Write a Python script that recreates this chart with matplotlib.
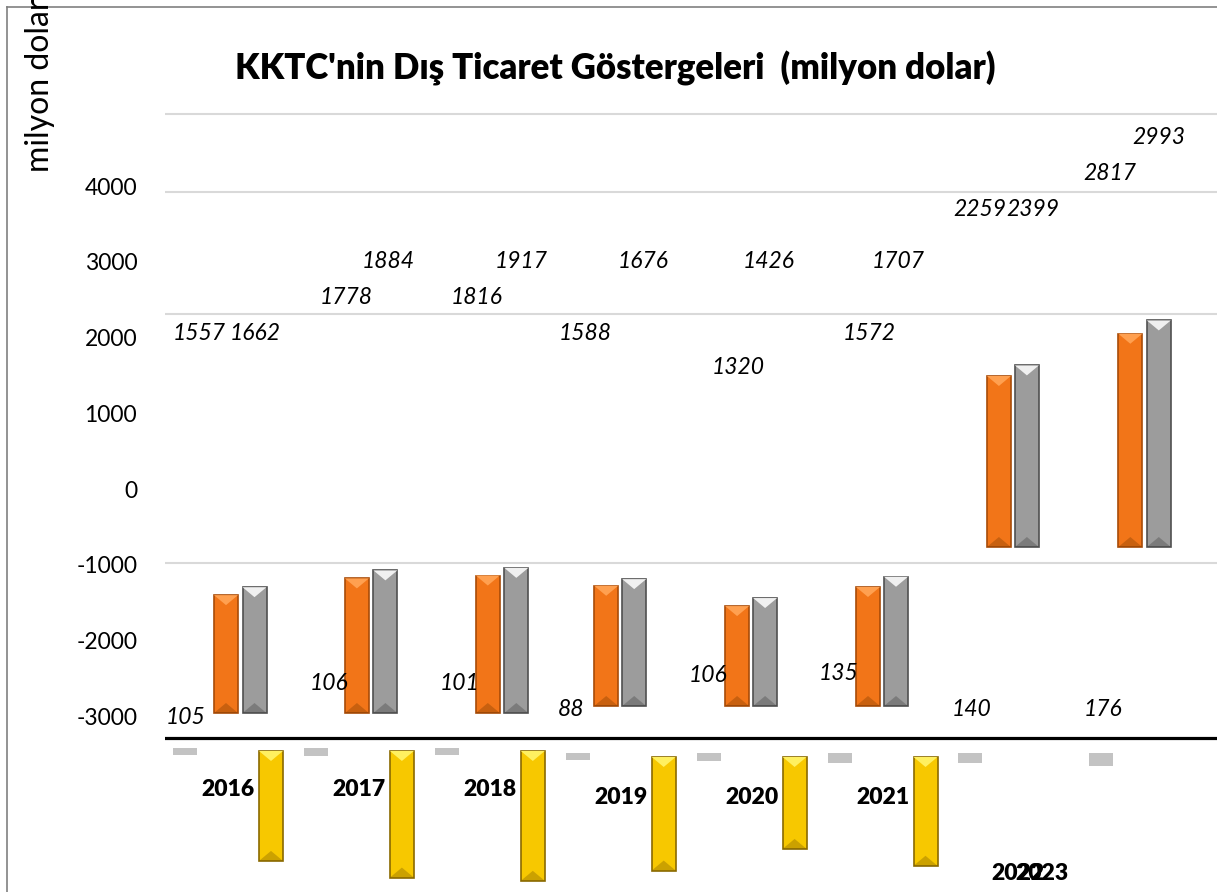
import matplotlib.pyplot as plt
from matplotlib.lines import Line2D
from matplotlib.patches import Polygon

plt.rcParams["font.family"] = ["Lato", "DejaVu Sans"]

# data
years = ["2016", "2017", "2018", "2019", "2020", "2021", "2022", "2023"]
exports = [105, 106, 101, 88, 106, 135, 140, 176]
imports = [1557, 1778, 1816, 1588, 1320, 1572, 2259, 2817]
volume = [1662, 1884, 1917, 1676, 1426, 1707, 2399, 2993]
balance = [e - i for e, i in zip(exports, imports)]
yticks = [4000, 3000, 2000, 1000, 0, -1000, -2000, -3000]

# layout (pixel helpers for the broken original placement)
W, H = 1217, 892
PX_PER_1000 = 75.7
GROUP = 130.9
X0 = 185
Y0 = 489


def py(y):
    return (Y0 - y) * 1000 / PX_PER_1000


def px(x):
    return (x - X0) / GROUP


bar_w = 24 / GROUP
orange_off = [41, 41, 41, 28.5, 28.5, 28.5, 28.5, 29]
gray_off = [69.5, 69.5, 69.5, 56.5, 56.5, 56.5, 56.5, 57.5]
yellow_off = 86
bar_base = [713, 713, 713, 706, 706, 706, 547, 547]
yellow_top = [751, 751, 751, 757, 757, 757, 905, 905]
dash_top = [747.5, 747.5, 747.5, 753, 753, 753, 752.5, 752.5]

exp_lab = [(186, 718), (329, 684), (460, 684), (571, 709), (708, 676), (839, 673), (972, 710), (1103, 710)]
imp_lab = [(199, 333), (346, 297), (477, 297), (585, 333), (738, 367), (869, 333), (979.5, 210), (1110, 173)]
vol_lab = [(255, 333), (388, 262), (521, 262), (643, 262), (769, 262), (898, 262), (1032.5, 210), (1159, 138)]
year_lab = [(228, 790), (359, 790), (490, 790), (621, 797), (752, 797), (883, 797), (1018, 874), (1042, 874)]
grid_px = [114, 192, 314, 563]

fig = plt.figure(figsize=(W / 100, H / 100), dpi=100)
ax = fig.add_axes([165 / W, 0, (W - 165) / W, (H - 100) / H])
ax.set_xlim(px(165), px(W))
ax.set_ylim(py(H), py(100))

for g in grid_px:
    ax.axhline(py(g), color="#d9d9d9", lw=1.5, zorder=0)
ax.axhline(py(738), color="black", lw=2.3, zorder=1)

idx = list(range(len(years)))
ax.bar(idx, [-e for e in exports], bar_w, bottom=[py(t) for t in dash_top],
       color="#b4b4b4", alpha=0.8, zorder=2)


def bevel(bars, light, dark):
    depth = 10 * 1000 / PX_PER_1000
    for b in bars:
        x, w = b.get_x(), b.get_width()
        y0, h = b.get_y(), b.get_height()
        top = y0 + h if h > 0 else y0
        bot = y0 if h > 0 else y0 + h
        ax.add_patch(Polygon([(x, top), (x + w, top), (x + w / 2, top - depth)],
                             closed=True, color=light, lw=0, zorder=4))
        ax.add_patch(Polygon([(x, bot), (x + w, bot), (x + w / 2, bot + depth)],
                             closed=True, color=dark, lw=0, alpha=0.35, zorder=4))


ob = ax.bar([i + px(X0 + o) for i, o in zip(idx, orange_off)], imports, bar_w,
            bottom=[py(b) for b in bar_base], color="#f27518", edgecolor="#a84c08", lw=1.2, zorder=3)
gb = ax.bar([i + px(X0 + o) for i, o in zip(idx, gray_off)], volume, bar_w,
            bottom=[py(b) for b in bar_base], color="#9c9c9c", edgecolor="#505050", lw=1.2, zorder=3)
yb = ax.bar([i + px(X0 + yellow_off) for i in idx], balance, bar_w,
            bottom=[py(t) for t in yellow_top], color="#f7c800", edgecolor="#8a6a00", lw=1.2, zorder=3)
bevel(ob, "#ffa050", "#7a3a00")
bevel(gb, "#f0f0f0", "#404040")
bevel(yb, "#fff060", "#7a5a00")

for vals, labs in ((exports, exp_lab), (imports, imp_lab), (volume, vol_lab)):
    for v, (lx, ly) in zip(vals, labs):
        ax.text(px(lx), py(ly), str(v), ha="center", va="center", fontsize=16.5,
                style="italic", zorder=5)
for yr, (lx, ly) in zip(years, year_lab):
    ax.text(px(lx), py(ly), yr, ha="center", va="center", fontsize=16.5,
            fontweight="heavy", zorder=5)

ax.set_yticks(yticks)
ax.set_yticklabels([str(t) for t in yticks], fontsize=16.5)
ax.tick_params(axis="y", length=0, pad=20)
ax.set_xticks([])
for s in ax.spines.values():
    s.set_visible(False)

fig.text(615 / W, 1 - 68 / H, "KKTC'nin Dış Ticaret Göstergeleri  (milyon dolar)",
         ha="center", va="center", fontsize=25, fontweight="heavy")
fig.text(40 / W, 1 - 172 / H, "milyon dolar", rotation=90, ha="center", va="bottom", fontsize=23)

fig.add_artist(Line2D([7 / W, 7 / W], [0, 1 - 7 / H], color="#808080", lw=1.2))
fig.add_artist(Line2D([7 / W, 1], [1 - 7 / H, 1 - 7 / H], color="#808080", lw=1.2))

fig.savefig("out.png", dpi=100)
